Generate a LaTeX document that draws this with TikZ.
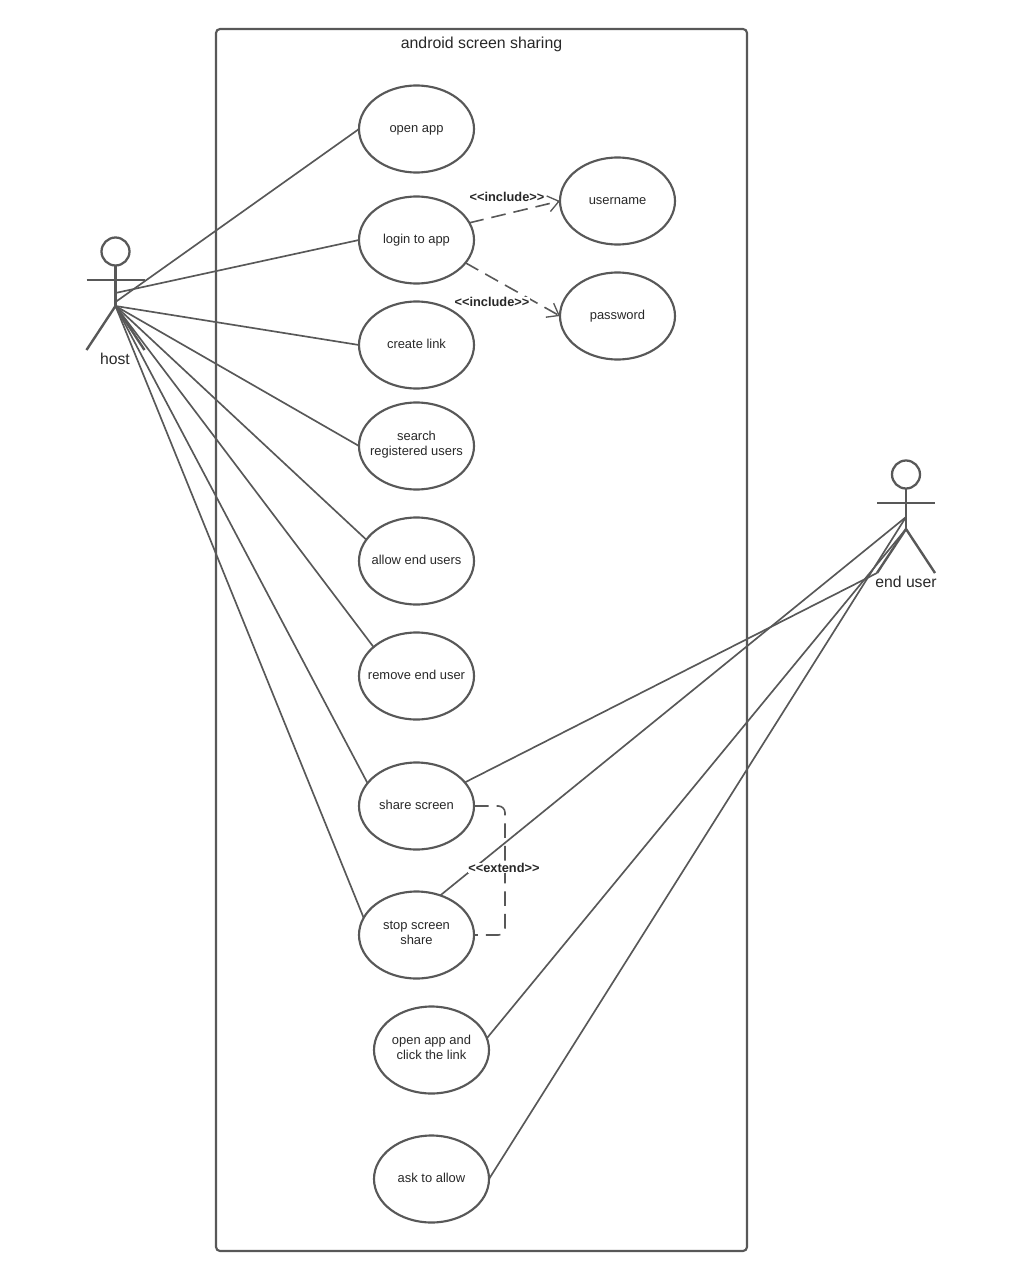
\documentclass[tikz,border=0pt]{standalone}
\usepackage{fontspec}
\setmainfont{Liberation Sans}
\usetikzlibrary{shapes,shapes.geometric,arrows,arrows.meta,positioning,calc}
\definecolor{umlgrey}{RGB}{88,88,88}
\definecolor{umltext}{RGB}{40,40,40}

\begin{document}
\begin{tikzpicture}[
    x=0.75pt, y=-0.75pt,
    every node/.style={text=umltext, align=center},
    usecase/.style={ellipse, draw=umlgrey, line width=1.6pt, minimum width=86.25pt, minimum height=65.25pt,
                    inner xsep=-22pt, inner ysep=0pt, outer sep=0pt, text height=7.2pt, text depth=2.6pt,
                    font=\fontsize{9.7}{11.6}\selectfont},
    twoline/.style={text height=17.6pt, text depth=3.2pt},
    boundary/.style={rectangle, rounded corners=3pt, draw=umlgrey, line width=1.6pt, minimum width=398.25pt,
                     minimum height=916.5pt, inner sep=0pt, outer sep=0pt},
    head/.style={circle, draw=umlgrey, line width=1.7pt, minimum size=21pt, inner sep=0pt, outer sep=0pt},
    stereo/.style={font=\fontsize{9.6}{11}\selectfont\bfseries, inner sep=0.5pt},
    actorname/.style={font=\fontsize{11.8}{14}\selectfont},
    limb/.style={draw=umlgrey, line width=1.8pt},
    assoc/.style={draw=umlgrey, line width=1.25pt},
    dep/.style={draw=umlgrey, line width=1.2pt, dash pattern=on 11pt off 6pt},
    deparrow/.style={dep, -{Straight Barb[length=8pt, width=12pt, line width=1pt]}}
]
\useasboundingbox (0,0) rectangle (1021,1280);

% System boundary
\node[boundary] (sys) at (481.5,640) {};
\node[font=\fontsize{11.9}{14}\selectfont] (title) at (481.5,44.5) {android screen sharing};

% Use cases
\node[usecase] (open) at (416.5,129) {open app};
\node[usecase, below=18pt of open] (login) {login to app};
\node[usecase, below=13.5pt of login] (link) {create link};
\node[usecase, twoline, below=10.5pt of link] (search) {search\\registered users};
\node[usecase, below=21pt of search] (allow) {allow end users};
\node[usecase, below=21pt of allow] (remove) {remove end user};
\node[usecase, below=32.25pt of remove] (share) {share screen};
\node[usecase, twoline, below=31.5pt of share] (stop) {stop screen\\share};
\node[usecase, twoline, below=21pt of stop, xshift=11.25pt] (click) {open app and\\click the link};
\node[usecase, below=31.5pt of click] (ask) {ask to allow};
\node[usecase, right=64.5pt of login, yshift=29.25pt] (user) {username};
\node[usecase, below=21pt of user] (pass) {password};

% Actors
\node[head] (hosthead) at (115.5,251.5) {};
\coordinate (hosthip) at (115.5,306);
\coordinate (hostarm) at (115.5,280);
\coordinate (hostchest) at (115.5,293);
\coordinate (hostwaist) at (115.5,302);
\node[actorname] (hostname) at (115,359) {host};
\node[head] (endhead) at (906,474.5) {};
\coordinate (endhip) at (906,529);
\coordinate (endarm) at (906,503);
\coordinate (endchest) at (906,517);
\coordinate (endfoot) at (877,573);
\node[actorname] (endname) at (906,582) {end user};

\draw[limb] (hosthead) -- (hosthip);
\draw[limb] ($(hostarm)+(-29,0)$) -- ($(hostarm)+(29,0)$);
\draw[limb] (hosthip) -- ++(-29,44);
\draw[limb] (hosthip) -- ++(29,44);
\draw[limb] (endhead) -- (endhip);
\draw[limb] ($(endarm)+(-29,0)$) -- ($(endarm)+(29,0)$);
\draw[limb] (endhip) -- (endfoot);
\draw[limb] (endhip) -- ++(29,44);

% Host lines
\draw[assoc] (hostwaist) -- (open.west);
\draw[assoc] (hostchest) -- (login.west);
\draw[assoc] (hosthip) -- (link.west);
\draw[assoc] (hosthip) -- (search.west);
\draw[assoc] (hosthip) -- (allow.157);
\draw[assoc] (hosthip) -- (remove.146);
\draw[assoc] (hosthip) -- (share.155);
\draw[assoc] (hosthip) -- (stop.162);

% End user lines
\draw[assoc] (endfoot) -- (share.26);
\draw[assoc] (endchest) -- (stop.59);
\draw[assoc] (endhip) -- (click.12);
\draw[assoc] (endchest) -- (ask.east);

% Include and extend
\draw[deparrow] (login.18) -- (user.west);
\draw[deparrow] (login.-25) -- (pass.west);
\draw[dep, rounded corners=5pt] (share.east) -- ++(31,0) |- (stop.east);
\node[stereo, fill=white] (inc1) at (507,197) {<{}<include>{}>};
\node[stereo, fill=white] (inc2) at (492,302) {<{}<include>{}>};
\node[stereo, fill=white] (ext) at (504,868) {<{}<extend>{}>};

\end{tikzpicture}
\end{document}
